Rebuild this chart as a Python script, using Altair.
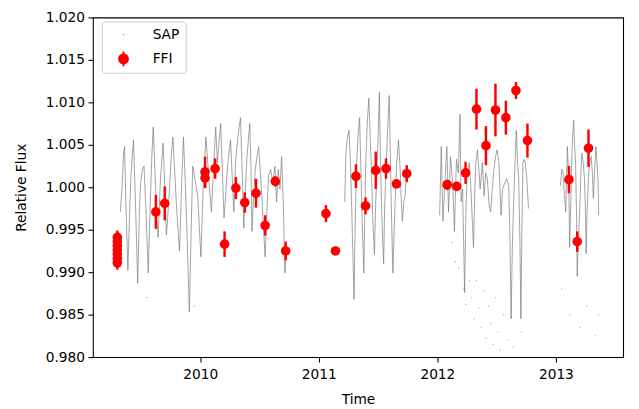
import altair as alt
import pandas as pd

# ---------------- SAP light curve ----------------
sap_time_a = [2009.325, 2009.339, 2009.353, 2009.361, 2009.372, 2009.389, 2009.400, 2009.414, 2009.436, 2009.453,
              2009.472, 2009.486, 2009.497, 2009.511, 2009.525, 2009.542, 2009.561, 2009.578, 2009.592, 2009.603,
              2009.617, 2009.630, 2009.644, 2009.664, 2009.686, 2009.700, 2009.714, 2009.728, 2009.742, 2009.755,
              2009.769, 2009.783, 2009.797, 2009.811, 2009.825, 2009.842, 2009.858, 2009.869, 2009.880, 2009.894,
              2009.908, 2009.922, 2009.936, 2009.955, 2009.978, 2009.992, 2010.005, 2010.025, 2010.047, 2010.061,
              2010.075, 2010.094, 2010.111, 2010.130, 2010.144, 2010.158, 2010.172, 2010.186, 2010.200, 2010.214,
              2010.228, 2010.242, 2010.255, 2010.269, 2010.283, 2010.297, 2010.317, 2010.339, 2010.353, 2010.367,
              2010.380, 2010.394, 2010.417, 2010.428, 2010.436, 2010.450, 2010.464, 2010.478, 2010.492, 2010.505,
              2010.519, 2010.533, 2010.547, 2010.561, 2010.575, 2010.594, 2010.611, 2010.630, 2010.644, 2010.658,
              2010.672, 2010.686, 2010.700, 2010.714, 2010.728]
sap_flux_a = [0.9971, 0.9998, 1.0040, 1.0048, 0.9983, 0.9902, 0.9952, 1.0013, 1.0056, 0.9983,
              0.9887, 0.9971, 1.0006, 1.0021, 1.0025, 0.9971, 0.9899, 0.9983, 1.0040, 1.0071,
              1.0021, 0.9975, 0.9941, 1.0010, 1.0052, 1.0002, 0.9944, 0.9971, 1.0002, 1.0036,
              1.0059, 1.0021, 0.9983, 0.9952, 0.9925, 1.0002, 1.0059, 1.0021, 0.9979, 0.9918,
              0.9853, 0.9944, 1.0025, 1.0010, 0.9990, 0.9952, 0.9918, 1.0002, 1.0059, 1.0033,
              1.0002, 0.9971, 1.0021, 1.0071, 1.0029, 1.0052, 1.0075, 1.0021, 0.9964, 0.9990,
              1.0021, 1.0040, 1.0056, 1.0013, 0.9971, 1.0029, 1.0059, 1.0082, 1.0021, 0.9952,
              0.9998, 1.0036, 1.0075, 1.0021, 0.9948, 0.9990, 1.0021, 1.0036, 1.0048, 1.0021,
              0.9990, 0.9952, 0.9918, 0.9971, 1.0013, 1.0021, 1.0006, 1.0025, 0.9983, 1.0021,
              0.9998, 1.0036, 0.9983, 0.9899, 0.9929]

sap_time_b = [2011.219, 2011.228, 2011.242, 2011.255, 2011.269, 2011.283, 2011.297, 2011.305, 2011.317, 2011.330,
              2011.344, 2011.355, 2011.367, 2011.380, 2011.394, 2011.408, 2011.422, 2011.433, 2011.444, 2011.455,
              2011.469, 2011.480, 2011.492, 2011.503, 2011.511, 2011.519, 2011.528, 2011.539, 2011.547, 2011.555,
              2011.567, 2011.580, 2011.594, 2011.603, 2011.608, 2011.617, 2011.625, 2011.636, 2011.644, 2011.658,
              2011.672, 2011.686, 2011.694, 2011.705, 2011.717, 2011.728, 2011.742, 2011.750]
sap_flux_b = [0.9983, 1.0040, 1.0059, 1.0067, 1.0021, 0.9944, 0.9868, 0.9944, 1.0021, 1.0059,
              1.0082, 1.0021, 0.9952, 0.9899, 1.0021, 1.0075, 1.0105, 1.0059, 1.0021, 0.9964,
              0.9921, 0.9983, 1.0021, 1.0075, 1.0112, 1.0040, 0.9983, 0.9937, 0.9910, 0.9975,
              1.0021, 1.0067, 1.0108, 1.0040, 1.0002, 0.9944, 0.9899, 0.9952, 0.9983, 1.0029,
              1.0056, 1.0021, 0.9990, 0.9960, 0.9983, 0.9990, 1.0021, 1.0010]

sap_time_c = [2012.019, 2012.033, 2012.047, 2012.061, 2012.080, 2012.094, 2012.111, 2012.130, 2012.144, 2012.161,
              2012.177, 2012.191, 2012.200, 2012.213, 2012.230, 2012.241, 2012.250, 2012.269, 2012.283, 2012.305,
              2012.316, 2012.325, 2012.338, 2012.352, 2012.361, 2012.380, 2012.394, 2012.408, 2012.422, 2012.436,
              2012.450, 2012.463, 2012.477, 2012.491, 2012.505, 2012.519, 2012.538, 2012.550, 2012.561, 2012.583,
              2012.602, 2012.611, 2012.622, 2012.633, 2012.644, 2012.655, 2012.666, 2012.677, 2012.686, 2012.697,
              2012.705, 2012.713, 2012.722, 2012.733, 2012.741, 2012.755, 2012.769]
sap_flux_c = [0.9967, 1.0048, 0.9960, 0.9998, 1.0048, 0.9971, 1.0036, 1.0002, 0.9948, 1.0033,
              1.0017, 1.0086, 0.9983, 0.9998, 0.9876, 0.9971, 1.0010, 1.0029, 0.9998, 0.9929,
              0.9998, 1.0029, 1.0044, 1.0017, 0.9998, 1.0029, 0.9990, 1.0017, 1.0010, 0.9979,
              0.9971, 0.9998, 1.0021, 1.0036, 1.0044, 1.0029, 0.9967, 0.9998, 1.0002, 1.0010,
              1.0002, 0.9952, 0.9845, 0.9933, 0.9983, 1.0029, 1.0067, 1.0029, 1.0010, 0.9933,
              0.9845, 0.9952, 1.0029, 1.0033, 1.0029, 1.0010, 0.9975]

sap_time_d = [2013.038, 2013.050, 2013.061, 2013.072, 2013.083, 2013.097, 2013.108, 2013.116, 2013.127, 2013.136,
              2013.144, 2013.150, 2013.158, 2013.166, 2013.175, 2013.180, 2013.188, 2013.200, 2013.211, 2013.219,
              2013.230, 2013.241, 2013.250, 2013.255, 2013.263, 2013.275, 2013.286, 2013.297, 2013.308, 2013.316,
              2013.327, 2013.338, 2013.347, 2013.355, 2013.361]
sap_flux_d = [1.0002, 1.0021, 1.0017, 0.9990, 0.9971, 1.0048, 1.0010, 0.9929, 0.9990, 1.0044,
              1.0067, 1.0079, 1.0048, 1.0029, 0.9960, 0.9895, 0.9933, 0.9971, 1.0017, 1.0040,
              1.0029, 1.0010, 0.9971, 0.9922, 0.9971, 1.0013, 1.0029, 1.0036, 1.0017, 0.9987,
              1.0021, 1.0048, 1.0029, 1.0010, 0.9967]

# scattered SAP outlier points
sap_out_time = [2009.55, 2009.95, 2012.12, 2012.15, 2012.18, 2012.22, 2012.24, 2012.27, 2012.29, 2012.31,
                2012.33, 2012.35, 2012.37, 2012.39, 2012.41, 2012.43, 2012.45, 2012.47, 2012.49, 2012.51,
                2012.53, 2012.56, 2012.60, 2012.64, 2012.71, 2013.05, 2013.12, 2013.20, 2013.26, 2013.33,
                2013.36]
sap_out_flux = [0.9870, 0.9860, 0.9935, 0.9912, 0.9905, 0.9880, 0.9862, 0.9890, 0.9870, 0.9845,
                0.9890, 0.9858, 0.9835, 0.9878, 0.9822, 0.9860, 0.9840, 0.9815, 0.9870, 0.9830,
                0.9808, 0.9850, 0.9820, 0.9812, 0.9830, 0.9880, 0.9850, 0.9835, 0.9860, 0.9825,
                0.9850]

# ---------------- FFI photometry ----------------
ffi_time = [2009.30, 2009.30, 2009.30, 2009.30, 2009.30, 2009.30, 2009.30,
            2009.625, 2009.700, 2010.040, 2010.040, 2010.125, 2010.205, 2010.300, 2010.375,
            2010.470, 2010.547, 2010.633, 2010.720, 2011.060, 2011.140, 2011.313, 2011.394,
            2011.480, 2011.567, 2011.655, 2011.742, 2012.083, 2012.163, 2012.238, 2012.330,
            2012.410, 2012.490, 2012.578, 2012.663, 2012.760, 2013.110, 2013.180, 2013.275]
ffi_flux = [0.9941, 0.9936, 0.9931, 0.9926, 0.9921, 0.9916, 0.9911,
            0.9971, 0.9981, 1.0018, 1.0011, 1.0022, 0.9933, 0.9999, 0.9982,
            0.9993, 0.9955, 1.0007, 0.9925, 0.9969, 0.9925, 1.0013, 0.9978,
            1.0020, 1.0022, 1.0004, 1.0016, 1.0003, 1.0001, 1.0017, 1.0092,
            1.0049, 1.0091, 1.0082, 1.0114, 1.0055, 1.0009, 0.9936, 1.0046]
ffi_err = [0.0008, 0.0008, 0.0008, 0.0008, 0.0008, 0.0008, 0.0008,
           0.0020, 0.0020, 0.0018, 0.0012, 0.0012, 0.0015, 0.0013, 0.0012,
           0.0017, 0.0012, 0.0006, 0.0011, 0.0010, 0.0003, 0.0014, 0.0010,
           0.0022, 0.0012, 0.0004, 0.0010, 0.0006, 0.0004, 0.0013, 0.0024,
           0.0023, 0.0031, 0.0020, 0.0010, 0.0020, 0.0016, 0.0012, 0.0022]

series_names = ["SAP", "FFI"]
series_colors = ["#808080", "#ff0000"]
x_ticks = [2010, 2011, 2012, 2013]
y_ticks = [0.980, 0.985, 0.990, 0.995, 1.000, 1.005, 1.010, 1.015, 1.020]

FONT = "DejaVu Sans"
FS = 13.9

sap_df = pd.concat([
    pd.DataFrame({"time": sap_time_a, "flux": sap_flux_a, "seg": "a"}),
    pd.DataFrame({"time": sap_time_b, "flux": sap_flux_b, "seg": "b"}),
    pd.DataFrame({"time": sap_time_c, "flux": sap_flux_c, "seg": "c"}),
    pd.DataFrame({"time": sap_time_d, "flux": sap_flux_d, "seg": "d"}),
], ignore_index=True)
out_df = pd.DataFrame({"time": sap_out_time, "flux": sap_out_flux})
ffi_df = pd.DataFrame({"time": ffi_time, "flux": ffi_flux, "err": ffi_err, "series": "FFI"})

xscale = alt.Scale(domain=[2009.094, 2013.567], nice=False, zero=False)
yscale = alt.Scale(domain=[0.980, 1.020], nice=False, zero=False)

xenc = alt.X("time:Q", scale=xscale,
             axis=alt.Axis(values=x_ticks, format="d", title="Time", labelPadding=6, titlePadding=11))
yenc = alt.Y("flux:Q", scale=yscale,
             axis=alt.Axis(values=y_ticks, format=".3f", title="Relative Flux", titlePadding=17))

sap_line = alt.Chart(sap_df).mark_line(color="#777777", strokeWidth=0.8, opacity=0.85).encode(
    x=xenc, y=yenc, detail="seg:N", order="time:Q"
)

sap_out = alt.Chart(out_df).mark_circle(color="#8a8a8a", size=2, opacity=0.7).encode(
    x="time:Q", y="flux:Q"
)

err = alt.Chart(ffi_df).transform_calculate(
    lo="datum.flux - datum.err", hi="datum.flux + datum.err"
).mark_rule(color="#ff0000", strokeWidth=2.5).encode(
    x="time:Q", y="lo:Q", y2="hi:Q"
)

pts = alt.Chart(ffi_df).mark_circle(color="#ff0000", size=95, opacity=1).encode(
    x="time:Q", y="flux:Q"
)

ffi_symbol = ("M -0.73 0 A 0.73 0.73 0 1 1 0.73 0 A 0.73 0.73 0 1 1 -0.73 0 Z "
              "M -0.13 -1 L 0.13 -1 L 0.13 1 L -0.13 1 Z")

legend_layer = alt.Chart(ffi_df).transform_filter("false").mark_point(filled=True, opacity=1).encode(
    x="time:Q", y="flux:Q",
    color=alt.Color("series:N", scale=alt.Scale(domain=series_names, range=series_colors),
                    legend=alt.Legend(title=None, orient="none", legendX=9, legendY=4,
                                      padding=6.5, rowPadding=10, symbolOffset=8, labelOffset=22,
                                      labelFont=FONT, labelFontSize=FS, labelColor="black",
                                      strokeColor="#cccccc", fillColor="rgba(255,255,255,0.8)",
                                      cornerRadius=3, symbolStrokeWidth=0)),
    shape=alt.Shape("series:N", scale=alt.Scale(domain=series_names, range=["circle", ffi_symbol])),
    size=alt.Size("series:N", scale=alt.Scale(domain=series_names, range=[2, 225])),
)

chart = alt.layer(sap_line, sap_out, err, pts, legend_layer).properties(
    width=537, height=344,
    autosize=alt.AutoSizeParams(type="none"),
    padding={"left": 86, "top": 7, "right": 8, "bottom": 50},
).configure_view(
    stroke="black", strokeWidth=1.1
).configure_axis(
    domain=False, grid=False, ticks=True, tickColor="black", tickSize=5, tickWidth=1.1,
    labelColor="black", labelFont=FONT, labelFontSize=FS, labelPadding=3.5,
    titleColor="black", titleFont=FONT, titleFontSize=FS, titleFontWeight="normal",
)

chart.save("out.html", embed_options={"renderer": "svg", "actions": False})
